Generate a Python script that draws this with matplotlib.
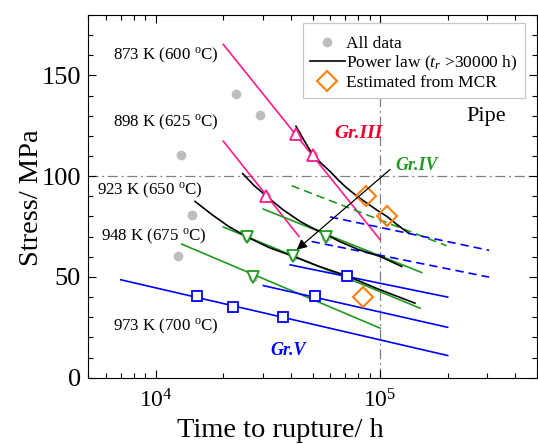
import numpy as np
import matplotlib
matplotlib.use("Agg")
import matplotlib.pyplot as plt
from matplotlib.patches import Rectangle
from matplotlib.ticker import LogLocator, MultipleLocator, NullFormatter, FixedLocator

plt.rcParams['font.family'] = ['Liberation Serif', 'DejaVu Serif']
plt.rcParams['mathtext.fontset'] = 'custom'
plt.rcParams['mathtext.rm'] = 'Liberation Serif'
plt.rcParams['mathtext.it'] = 'Liberation Serif:italic'
plt.rcParams['mathtext.bf'] = 'Liberation Serif:bold'

# ---------------- data (time to rupture in h, stress in MPa) ----------------
all_t = [22750, 29170, 12970, 14480, 12620,
         42170, 50100, 30940, 57500, 25620, 41060, 27220,
         70900, 51270, 15340, 22020, 36800]
all_s = [140.6, 130.6, 110.7, 80.9, 60.5,
         121.0, 110.7, 90.4, 70.0, 69.8, 60.2, 50.0,
         50.6, 40.3, 40.3, 35.3, 30.3]

# Gr.III (pink)
p873_t = [20030, 100000]; p873_s = [165.4, 68.5]
p898_t = [20030, 43530];  p898_s = [117.4, 70.1]
p_mark_t = [42170, 50100, 30940]; p_mark_s = [121.0, 110.7, 90.4]

# Gr.IV (green)
g1_t = [30180, 153200]; g1_s = [83.7, 52.2]
g2_t = [20030, 150700]; g2_s = [74.8, 34.5]
g3_t = [13070, 100000]; g3_s = [66.3, 24.6]
g_mark_t = [57500, 25620, 41060, 27220]; g_mark_s = [70.0, 69.8, 60.2, 50.0]
gd_t = [40370, 197700]; gd_s = [95.3, 65.5]

# Gr.V (blue)
b1_t = [39740, 200000]; b1_s = [56.0, 40.0]
b2_t = [30200, 200000]; b2_s = [45.7, 25.0]
b3_t = [7000, 200000];  b3_s = [48.6, 11.0]
b_mark_t = [70900, 51270, 15340, 22020, 36800]; b_mark_s = [50.6, 40.3, 40.3, 35.3, 30.3]
bd1_t = [59850, 306000]; bd1_s = [79.8, 63.2]
bd2_t = [49550, 306000]; bd2_s = [67.6, 49.9]

# Power law curves (black)
kA_t = [42220, 46000, 50100, 54800, 59830, 65000, 71000, 78500, 87160, 96500, 107000, 119000, 133600]
kA_s = [124.8, 117.5, 110.7, 106.3, 102.4, 98.2, 94.2, 90.3, 86.7, 83.3, 80.1, 76.0, 71.8]
kB_t = [24430, 27500, 31260, 36800, 43980, 49500, 55850, 66000, 80000, 99900, 124800]
kB_s = [101.3, 95.3, 90.0, 83.5, 77.6, 74.5, 71.8, 67.6, 63.6, 60.2, 55.2]
kC_t = [14980, 17800, 21200, 25620, 32000, 41060, 53000, 71000, 97000, 143000]
kC_s = [87.5, 81.0, 75.0, 69.8, 64.6, 60.2, 55.4, 50.6, 44.2, 37.0]

# Estimated from MCR
mcr_t = [86500, 107700, 84100]
mcr_s = [90.3, 80.1, 40.0]

# arrow
arrow_from = (110700, 103.3)
arrow_to = (42520, 63.5)

PINK = '#FF1A8C'
GREEN = '#1E9B1E'
BLUE = '#0000FF'
ORANGE = '#FF7F0E'
GRAY = '#BEBEBE'

W, H = 538, 444
fig = plt.figure(figsize=(W/100, H/100), dpi=100)
ax = fig.add_axes([88/W, 1-377.7/H, (537-88)/W, (377.7-15)/H])
ax.set_xscale('log')
ax.set_xlim(5000, 5e5)
ax.set_ylim(0, 180)

lw = 1.2
# reference lines
ax.axhline(100, color='#808080', lw=0.9, ls='-.', dashes=(8, 3, 1.5, 3), zorder=1)
ax.axvline(1e5, color='#808080', lw=0.9, ls='-.', dashes=(8, 3, 1.5, 3), zorder=1)

# all data
ax.plot(all_t, all_s, 'o', color=GRAY, ms=7, mec='none', zorder=2, label='All data')

# pink
ax.plot(p873_t, p873_s, color=PINK, lw=lw, zorder=3)
ax.plot(p898_t, p898_s, color=PINK, lw=lw, zorder=3)
# green
for t, s in [(g1_t, g1_s), (g2_t, g2_s), (g3_t, g3_s)]:
    ax.plot(t, s, color=GREEN, lw=lw, zorder=3)
ax.plot(gd_t, gd_s, color=GREEN, lw=lw, ls=(0, (5, 3)), zorder=3)
# blue
for t, s in [(b1_t, b1_s), (b2_t, b2_s), (b3_t, b3_s)]:
    ax.plot(t, s, color=BLUE, lw=lw, zorder=3)
ax.plot(bd1_t, bd1_s, color=BLUE, lw=lw, ls=(0, (5, 3)), zorder=3)
ax.plot(bd2_t, bd2_s, color=BLUE, lw=lw, ls=(0, (5, 3)), zorder=3)

# black power law
ax.plot(kA_t, kA_s, color='black', lw=lw, zorder=4, label=r'Power law ($t_r$ >30000 h)')
ax.plot(kB_t, kB_s, color='black', lw=lw, zorder=4)
ax.plot(kC_t, kC_s, color='black', lw=lw, zorder=4)

# markers
ax.plot(p_mark_t, p_mark_s, '^', ms=9, mfc='white', mec=PINK, mew=1.3, ls='none', zorder=5)
ax.plot(g_mark_t, g_mark_s, 'v', ms=9, mfc='white', mec=GREEN, mew=1.3, ls='none', zorder=5)
ax.plot(b_mark_t, b_mark_s, 's', ms=7.5, mfc='white', mec=BLUE, mew=1.3, ls='none', zorder=5)
ax.plot(mcr_t, mcr_s, 'D', ms=10, mfc='none', mec=ORANGE, mew=1.5, ls='none', zorder=6,
        label='Estimated from MCR')

ax.annotate('', xy=arrow_to, xytext=arrow_from,
            arrowprops=dict(arrowstyle='-|>', color='black', lw=0.9,
                            mutation_scale=15, shrinkA=0, shrinkB=0), zorder=7)

# texts
fs = 12.2
deg = r'$^{\rm o}$'
def ftext(x, y, s, **kw):
    fig.text(x/W, 1-y/H, s, va='center', **kw)

ftext(113, 55, '873 K (600 ' + deg + 'C)', fontsize=fs)
ftext(113, 122, '898 K (625 ' + deg + 'C)', fontsize=fs)
ftext(97, 190, '923 K (650 ' + deg + 'C)', fontsize=fs)
ftext(101, 236, '948 K (675 ' + deg + 'C)', fontsize=fs)
ftext(113, 326, '973 K (700 ' + deg + 'C)', fontsize=fs)

ftext(334, 133, 'Gr.III', fontsize=14, fontweight='bold', fontstyle='italic', color='#F0002D')
ftext(395, 165, 'Gr.IV', fontsize=13, fontweight='bold', fontstyle='italic', color=GREEN)
ftext(270, 350, 'Gr.V', fontsize=13, fontweight='bold', fontstyle='italic', color=BLUE)
ftext(466, 117, 'Pipe', fontsize=16)

# axes formatting
ax.yaxis.set_major_locator(FixedLocator([0, 50, 100, 150]))
ax.yaxis.set_minor_locator(MultipleLocator(10))
ax.xaxis.set_major_locator(LogLocator(base=10, numticks=10))
ax.xaxis.set_minor_locator(LogLocator(base=10, subs=np.arange(2, 10), numticks=10))
ax.xaxis.set_minor_formatter(NullFormatter())
ax.tick_params(which='both', direction='in', top=True, right=True, width=0.8)
ax.tick_params(axis='y', labelsize=19, pad=5)
ax.tick_params(axis='x', labelsize=17, pad=8)
ax.tick_params(which='major', length=6)
ax.tick_params(which='minor', length=3.5)
for sp in ax.spines.values():
    sp.set_linewidth(0.8)

fig.text(280/W, 1-430/H, 'Time to rupture/ h', fontsize=20.5, ha='center', va='center')
fig.text(32/W, 1-198/H, 'Stress/ MPa', fontsize=20.5, ha='center', va='center', rotation=90)

# legend with separate frame
frame = Rectangle((302.7/W, 1-98.3/H), (525-302.7)/W, (98.3-23.3)/H,
                  transform=fig.transFigure, facecolor='white',
                  edgecolor='#C8C8C8', lw=0.9, zorder=8, clip_on=False)
ax.add_patch(frame)
leg = ax.legend(loc='upper left', bbox_to_anchor=(310/W, 1-36/H), bbox_transform=fig.transFigure,
                fontsize=12.5, frameon=False,
                handlelength=2.0, handletextpad=0.1, labelspacing=0.1, borderpad=0,
                borderaxespad=0)
leg.set_zorder(9)

fig.savefig('out.png', dpi=100)
